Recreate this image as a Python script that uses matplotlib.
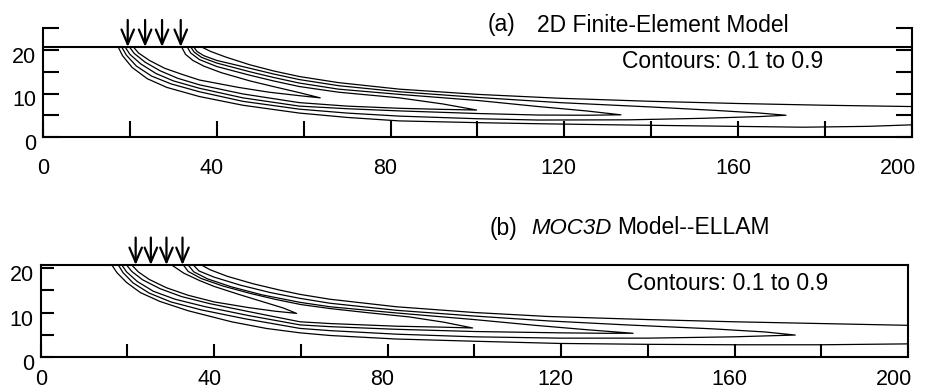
import numpy as np
import matplotlib
matplotlib.use('Agg')
import matplotlib.pyplot as plt
from matplotlib.transforms import ScaledTranslation

plt.rcParams['font.family'] = ['Liberation Sans', 'DejaVu Sans']
plt.rcParams['font.size'] = 14

# (a) 2D finite-element model -- water table height and arrow (recharge) positions
top_a = 20.7
arrows_a = [19.5, 23.5, 27.4, 31.7]

# contour lines: lower branch from the source, round the tip,
# back along the upper branch to the source
a_c09 = [(20.8, 20.7), (22, 19.3), (24.5, 17.6), (28, 15.8), (32, 14.4), (36, 13.1), (45, 11.4),
         (52, 10.3), (59, 9.5), (63.8, 9.0),
         (59, 10.2), (53, 11.6), (47.6, 12.9), (41, 14.8), (37, 16.3), (34.5, 17.6), (32.8, 19.0), (31.9, 20.7)]
a_c07 = [(19.9, 20.7), (21, 19.2), (23.5, 17.2), (27, 15.2), (31, 13.5), (36, 12.0), (46, 9.9),
         (59, 7.9), (70, 7.1), (82, 6.6), (92, 6.35), (99.8, 6.2),
         (92, 7.6), (82, 9.0), (68, 10.3), (59, 11.6), (53, 12.9), (47.6, 14.2), (40, 16.2), (36, 17.8),
         (34, 19.3), (33.2, 20.7)]
a_c05 = [(18.9, 20.7), (20, 19.0), (22.5, 16.8), (26, 14.6), (30, 12.9), (36, 11.2), (46, 9.0),
         (59, 7.1), (70, 6.5), (82, 6.0), (100, 5.4), (114, 5.05), (125, 5.0), (133, 5.1),
         (125, 6.0), (114, 7.0), (100, 8.4), (82, 9.8), (68, 11.0), (59, 12.4), (53, 13.7), (47.6, 15.0),
         (40, 17.0), (36.5, 18.3), (34.8, 19.5), (34.0, 20.7)]
a_c03 = [(18.1, 20.7), (19.2, 18.8), (21.5, 16.3), (25, 14.0), (29.5, 12.2), (36, 10.4), (46, 8.2),
         (59, 6.4), (70, 5.5), (82, 4.8), (100, 4.2), (114, 3.9), (135, 3.95), (152, 4.3), (165, 4.7),
         (171, 5.0),
         (165, 5.5), (155, 6.1), (140, 6.9), (119, 7.9), (100, 9.1), (82, 10.4), (68, 11.8), (59, 13.2),
         (53, 14.5), (47.6, 15.8), (40, 17.6), (37, 18.7), (35.4, 19.7), (34.7, 20.7)]
a_c01 = [(17.3, 20.7), (18.3, 18.7), (20.5, 16.0), (24, 13.4), (28.5, 11.4), (36, 9.3), (46, 7.3),
         (59, 5.5), (70, 4.5), (82, 3.7), (100, 3.3), (114, 3.05), (135, 2.75), (155, 2.5), (175, 2.25),
         (190, 2.45), (200, 2.8),
         (200, 7.0), (180, 7.3), (160, 7.7), (140, 8.2), (119, 8.9), (100, 9.8), (82, 11.0), (68, 12.5),
         (59, 13.9), (53, 15.2), (47.6, 16.6), (42, 18.4), (38.5, 19.7), (36.5, 20.7)]

# (b) MOC3D model -- ELLAM
top_b = 20.75
arrows_b = [21.9, 25.4, 29.0, 32.7]

b_c09 = [(21.0, 20.75), (22.5, 19.2), (25, 17.5), (29, 15.6), (34, 13.9), (40, 12.4), (48, 11.1),
         (54, 10.3), (59, 9.8),
         (56, 11.0), (52, 12.2), (46, 14.0), (40, 15.9), (36.7, 17.2), (33, 18.9), (30.2, 20.75)]
b_c07 = [(19.8, 20.75), (21, 19.3), (23.5, 17.4), (27.5, 15.4), (32.5, 13.6), (39, 12.0), (49, 10.0),
         (59.8, 7.9), (66.7, 7.5), (82, 6.9), (92, 6.7), (99.6, 6.5),
         (93, 7.8), (85, 9.0), (75, 10.0), (66.7, 10.9), (60, 11.8), (54, 13.0), (48, 14.4), (42, 16.0),
         (37, 17.7), (34, 19.3), (32.9, 20.75)]
b_c05 = [(18.7, 20.75), (19.8, 19.2), (22.3, 17.0), (26, 14.8), (31, 13.0), (38, 11.3), (48, 9.3),
         (59.8, 7.2), (66.7, 6.8), (82, 6.2), (100, 5.7), (119.7, 5.4), (130, 5.3), (136.6, 5.3),
         (126, 6.1), (114, 7.1), (100, 8.4), (82, 9.9), (66.7, 11.3), (59.8, 12.3), (51, 14.0),
         (44, 15.8), (38.5, 17.6), (35.3, 19.2), (34.0, 20.75)]
b_c03 = [(17.9, 20.75), (19, 19.0), (21.3, 16.7), (25, 14.4), (30, 12.4), (37, 10.6), (47, 8.6),
         (59.8, 6.4), (66.7, 5.9), (82, 5.1), (100, 4.5), (119.7, 4.2), (140, 4.2), (160, 4.5), (174, 4.9),
         (167, 5.6), (155, 6.3), (135, 7.2), (117, 8.1), (100, 9.2), (82, 10.5), (66.7, 12.1), (59.8, 13.2),
         (53, 14.5), (46, 16.2), (40, 18.0), (36.5, 19.4), (35.2, 20.75)]
b_c01 = [(16.4, 20.75), (17.6, 19.0), (19.8, 16.8), (23, 14.5), (27.5, 12.5), (34, 10.4), (44, 7.9),
         (52, 6.4), (59.8, 5.4), (66.7, 4.8), (82, 4.0), (100, 3.5), (119.7, 3.0), (140, 2.8), (160, 2.7),
         (180, 2.7), (200, 2.9),
         (200, 7.1), (180, 7.5), (160, 7.9), (140, 8.4), (117, 9.1), (100, 10.0), (82, 11.3), (66.7, 13.0),
         (59.8, 14.1), (55, 15.1), (49, 16.5), (43, 18.2), (39, 19.7), (37.1, 20.75)]

x_labels = [0, 40, 80, 120, 160, 200]
y_labels = [0, 10, 20]

fig = plt.figure(figsize=(9.37, 3.92), dpi=100)
ax_a = fig.add_axes([43 / 937, 1 - 137 / 392, 869 / 937, 108.75 / 392])
ax_b = fig.add_axes([40.7 / 937, 1 - 356.7 / 392, 867.3 / 937, 91.7 / 392])

for ax, contours, top, arrows, ymax, tlen, xpad in [
        (ax_a, [a_c01, a_c03, a_c05, a_c07, a_c09], top_a, arrows_a, 25, 11.5, 15),
        (ax_b, [b_c01, b_c03, b_c05, b_c07, b_c09], top_b, arrows_b, top_b, 9.5, 9)]:
    for c in contours:
        c = np.array(c)
        ax.plot(c[:, 0], c[:, 1], color='black', lw=0.9)
    for x in arrows:
        ax.annotate('', xy=(x, top), xytext=(x, top + 6.2), annotation_clip=False,
                    arrowprops=dict(arrowstyle='->,head_length=0.75,head_width=0.32',
                                    color='black', lw=1.6, mutation_scale=14, shrinkA=0, shrinkB=0))
    ax.set_xlim(0, 200)
    ax.set_ylim(0, ymax)
    ax.set_xticks(x_labels)
    ax.set_xticks(np.arange(20, 200, 40), minor=True)
    ax.set_yticks(y_labels)
    ax.set_yticks([5, 15] + ([25] if ymax > 21 else []), minor=True)
    ax.tick_params(axis='both', which='both', direction='in', width=1.5, length=tlen, labelsize=15.5)
    ax.tick_params(axis='x', which='major', pad=xpad)
    ax.tick_params(axis='y', which='major', pad=5)
    for s in ax.spines.values():
        s.set_linewidth(1.5)

ax_a.spines['top'].set_visible(False)
ax_a.axhline(top_a, color='black', lw=1.5)
ax_a.tick_params(axis='y', which='both', right=True)

fig.text(488 / 937, 1 - 25 / 392, '(a)', va='center', fontsize=16.5)
fig.text(537 / 937, 1 - 25 / 392, '2D Finite-Element Model', va='center', fontsize=16.5)
fig.text(622 / 937, 1 - 62 / 392, 'Contours: 0.1 to 0.9', va='center', fontsize=16.5)

fig.text(490 / 937, 1 - 228 / 392, '(b)', va='center', fontsize=16.5)
fig.text(531 / 937, 1 - 228 / 392, 'MOC3D', va='center', fontsize=16, style='italic')
fig.text(617 / 937, 1 - 228 / 392, 'Model--ELLAM', va='center', fontsize=16.5)
fig.text(627 / 937, 1 - 283 / 392, 'Contours: 0.1 to 0.9', va='center', fontsize=16.5)

# nudge tick labels the way they sit in the original figure
fig.canvas.draw()
x_shift = [0, -5, -5, -6, -5, -14]
for ax in (ax_a, ax_b):
    for lab in ax.get_yticklabels():
        lab.set_transform(lab.get_transform() + ScaledTranslation(0, -5 / 100, fig.dpi_scale_trans))
    for lab, dx in zip(ax.get_xticklabels(), x_shift):
        lab.set_transform(lab.get_transform() + ScaledTranslation(dx / 100, 0, fig.dpi_scale_trans))

fig.savefig('out.png', dpi=100)
